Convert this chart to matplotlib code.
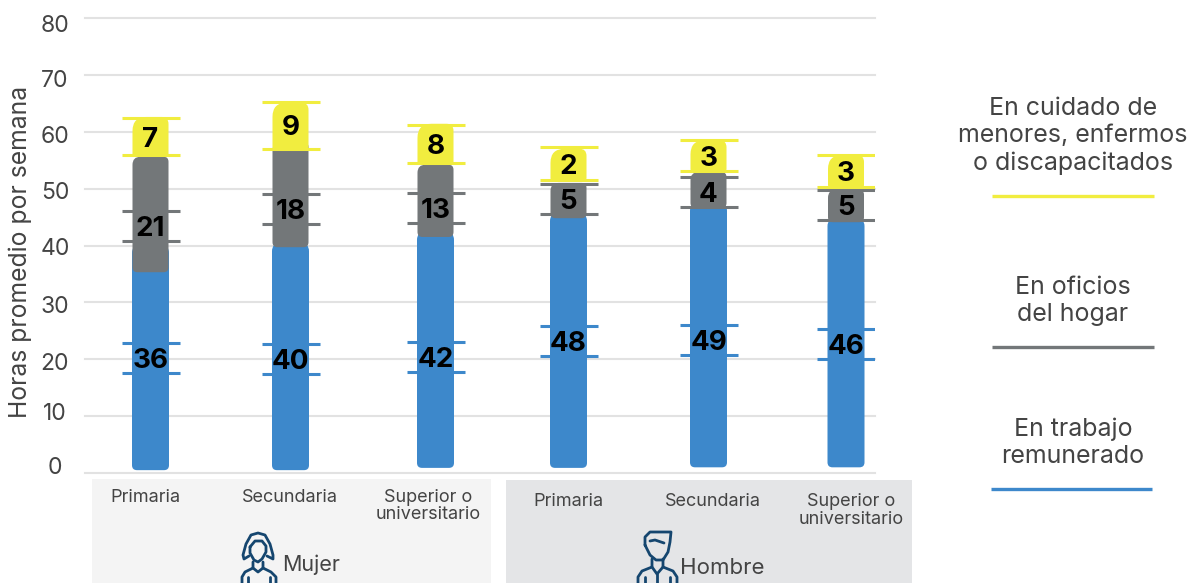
import matplotlib
matplotlib.use("Agg")
import matplotlib.pyplot as plt
from matplotlib.patches import PathPatch, Rectangle
from matplotlib.path import Path
from matplotlib.transforms import ScaledTranslation

W, H = 1192, 583
FONT = ["Inter", "DejaVu Sans"]
plt.rcParams["font.family"] = FONT

categories = ["Primaria", "Secundaria", "Superior o\nuniversitario"] * 2
groups = ["Mujer", "Hombre"]
y_ticks = [0, 10, 20, 30, 40, 50, 60, 70, 80]

trabajo_labels = [36, 40, 42, 48, 49, 46]
oficios_labels = [21, 18, 13, 5, 4, 5]
cuidado_labels = [7, 9, 8, 2, 3, 3]

# extent of each drawn segment (hours)
trabajo_bottom = [0.5, 0.5, 0.9, 0.9, 1.0, 1.0]
trabajo_top = [40.1, 40.4, 42.4, 45.7, 47.5, 44.8]
oficios_bottom = [35.3, 39.7, 41.5, 44.8, 46.6, 44.1]
oficios_top = [55.6, 58.2, 54.2, 51.0, 52.9, 49.8]
cuidado_bottom = [55.6, 57.0, 54.2, 51.5, 53.1, 50.3]
cuidado_top = [62.6, 65.1, 61.4, 57.0, 58.5, 55.9]

# capped range marks around each label (hours)
trabajo_lo = [17.6, 17.4, 17.8, 20.6, 20.7, 20.0]
trabajo_hi = [22.9, 22.7, 23.0, 25.8, 26.0, 25.3]
oficios_lo = [40.8, 43.8, 44.0, 45.5, 46.8, 44.5]
oficios_hi = [46.1, 49.1, 49.2, 50.8, 52.0, 49.8]
cuidado_lo = [55.9, 57.0, 54.5, 51.5, 53.1, 50.3]
cuidado_hi = [62.4, 65.2, 61.2, 57.3, 58.5, 55.9]

bar_x = [150.5, 290.5, 435.5, 568.5, 708.5, 846]
BLUE, GRAY, YELLOW = "#3d88cb", "#737779", "#f1ed3f"
NAVY = "#15466f"
TXT = "#444444"

fig = plt.figure(figsize=(W / 100, H / 100), dpi=100, facecolor="white")

# pixel-space layer for panels, legend and icons
bg = fig.add_axes([0, 0, 1, 1], zorder=0)
bg.set_xlim(0, W)
bg.set_ylim(H, 0)
bg.axis("off")

TOP, BOT, LEFT, RIGHT = 18, 473, 85, 875
ax = fig.add_axes([LEFT / W, 1 - BOT / H, (RIGHT - LEFT) / W, (BOT - TOP) / H], zorder=1)
ax.patch.set_alpha(0)
ax.set_xlim(LEFT, RIGHT)
ax.set_ylim(0, 80)
PX = (BOT - TOP) / 80.0  # pixels per hour
for s in ax.spines.values():
    s.set_visible(False)
ax.set_xticks([])
ax.set_yticks(y_ticks)
ax.tick_params(axis="y", length=0, pad=0, labelsize=16.5, labelcolor=TXT)
ax.grid(axis="y", color="#e2e2e2", lw=1.5, zorder=0)
ax.set_axisbelow(True)
for g in ax.get_ygridlines():
    g.set_clip_on(False)

offs = [-7, -5, 2, 2, 1, 2, 3, 4, 5]
for lab, o in zip(ax.get_yticklabels(), offs):
    lab.set_ha("center")
    lab.set_transform(lab.get_transform() + ScaledTranslation(-(LEFT - 55) / 100, -o / 100, fig.dpi_scale_trans))

ax.set_ylabel("Horas promedio por semana", fontsize=17.8, color=TXT)
ax.yaxis.set_label_coords((32 - LEFT) / (RIGHT - LEFT), (BOT - 252) / (BOT - TOP))


def rounded(xc, y0, y1, width, tl, tr, br, bl):
    x0, x1 = xc - width / 2, xc + width / 2
    k = 1 / PX
    verts = [(x0 + tl, y1), (x1 - tr, y1), (x1, y1), (x1, y1 - tr * k),
             (x1, y0 + br * k), (x1, y0), (x1 - br, y0),
             (x0 + bl, y0), (x0, y0), (x0, y0 + bl * k),
             (x0, y1 - tl * k), (x0, y1), (x0 + tl, y1), (x0 + tl, y1)]
    codes = [Path.MOVETO, Path.LINETO, Path.CURVE3, Path.CURVE3,
             Path.LINETO, Path.CURVE3, Path.CURVE3,
             Path.LINETO, Path.CURVE3, Path.CURVE3,
             Path.LINETO, Path.CURVE3, Path.CURVE3, Path.CLOSEPOLY]
    return Path(verts, codes)


CAP = 29
for i, x in enumerate(bar_x):
    ax.add_patch(PathPatch(rounded(x, trabajo_bottom[i], trabajo_top[i], 37, 8, 8, 5, 5),
                           fc=BLUE, ec="none", zorder=3))
    ax.hlines([trabajo_lo[i], trabajo_hi[i]], x - CAP, x + CAP, color=BLUE, lw=2.2, zorder=3)
    ax.add_patch(PathPatch(rounded(x, oficios_bottom[i], oficios_top[i], 36, 8, 5, 5, 5),
                           fc=GRAY, ec="none", zorder=4))
    ax.hlines([oficios_lo[i], oficios_hi[i]], x - CAP, x + CAP, color=GRAY, lw=2.2, zorder=4)
    ax.add_patch(PathPatch(rounded(x, cuidado_bottom[i], cuidado_top[i], 36, 14, 7, 2, 2),
                           fc=YELLOW, ec="none", zorder=5))
    ax.hlines([cuidado_lo[i], cuidado_hi[i]], x - CAP, x + CAP, color=YELLOW, lw=2.2, zorder=5)
    for lo, hi, val in ((trabajo_lo[i], trabajo_hi[i], trabajo_labels[i]),
                        (oficios_lo[i], oficios_hi[i], oficios_labels[i]),
                        (cuidado_lo[i], cuidado_hi[i], cuidado_labels[i])):
        ax.text(x, (lo + hi) / 2, str(val), ha="center", va="center_baseline",
                fontsize=20, fontweight="bold", color="black", zorder=6)

# panels
bg.add_patch(Rectangle((92, 479), 399, 104, fc="#f4f4f4", ec="none"))
bg.add_patch(Rectangle((506, 480), 406, 103, fc="#e4e5e7", ec="none"))
cat_x = [145, 290, 428, 568, 712.5, 851]
cat_y = [497, 497, 506, 502, 502, 510.5]
for c, x, y in zip(categories, cat_x, cat_y):
    bg.text(x, y, c, ha="center", va="center", fontsize=13, color=TXT, linespacing=1.05)
bg.text(282, 565, groups[0], ha="left", va="center", fontsize=15.5, color=TXT)
bg.text(680, 568, groups[1], ha="left", va="center", fontsize=16, color=TXT)

# legend
legend_items = [("En cuidado de\nmenores, enfermos\no discapacitados", 136, 196, YELLOW, 992, 1154),
                ("En oficios\ndel hogar", 301, 347, GRAY, 992, 1154),
                ("En trabajo\nremunerado", 443, 489, BLUE, 991, 1152)]
for text, yc, yl, col, x0, x1 in legend_items:
    bg.text(1073, yc, text, ha="center", va="center", fontsize=18, color=TXT, linespacing=1.22)
    bg.plot([x0, x1], [yl, yl], color=col, lw=2.4, solid_capstyle="butt")


def icon(points):
    xs, ys = zip(*points)
    bg.plot(xs, ys, color=NAVY, lw=2, solid_capstyle="round", solid_joinstyle="round")


# woman
icon([(249, 556), (244, 559), (243, 555), (246, 544), (251, 535), (258, 533), (265, 535),
      (270, 544), (273, 555), (273, 559), (267, 556)])
icon([(250, 547), (255, 541), (262, 541), (266, 546), (266, 552), (262, 559), (258, 562),
      (254, 560), (250, 553), (250, 547)])
icon([(253, 562), (253, 568), (258, 572), (263, 568), (263, 562)])
icon([(253, 568), (245, 572), (242, 577), (242, 583)])
icon([(263, 568), (271, 572), (276, 577), (276, 583)])
icon([(248, 577), (248, 583)])
icon([(270, 577), (270, 583)])
# man
icon([(645, 545), (645, 537), (650, 532), (671, 532), (670, 542), (668, 552), (663, 560),
      (656, 560), (650, 555), (645, 545)])
icon([(650, 541), (655, 540), (664, 543)])
icon([(652, 559), (652, 567), (657, 574), (663, 567), (663, 559)])
icon([(652, 567), (642, 571), (638, 577), (638, 583)])
icon([(663, 567), (673, 571), (677, 577), (677, 583)])
icon([(645, 577), (645, 583)])
icon([(657, 574), (657, 583)])
icon([(670, 577), (670, 583)])

fig.savefig("out.png", dpi=100)
